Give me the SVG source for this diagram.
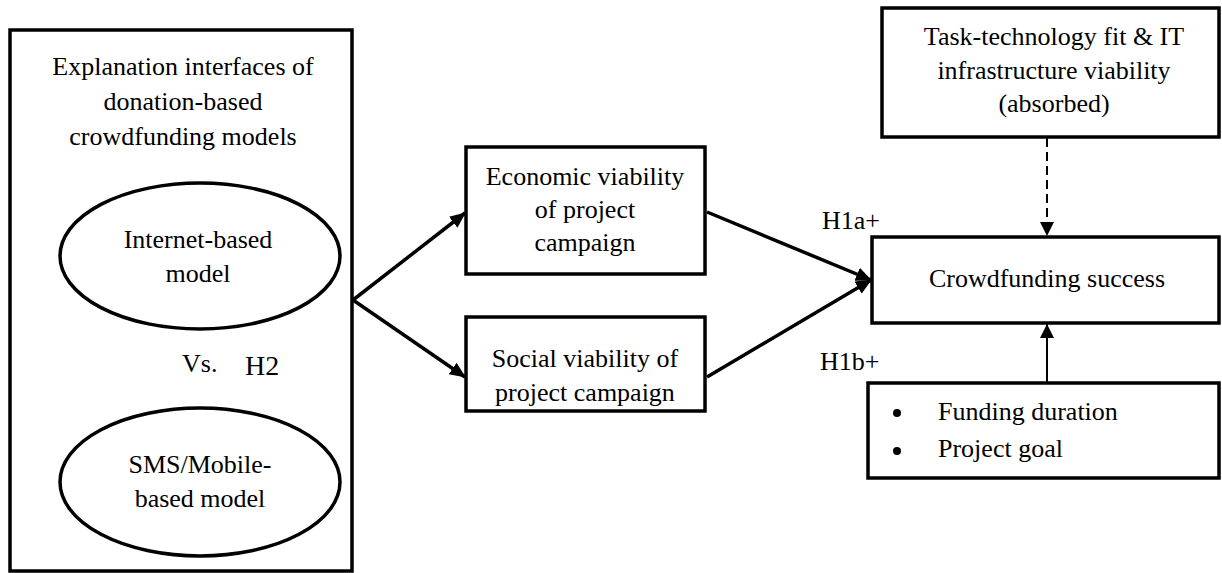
<svg xmlns="http://www.w3.org/2000/svg" width="1222" height="573" viewBox="0 0 1222 573">
<defs>
<style>
.box{fill:#fff;stroke:#000;stroke-width:3.5}
.ell{fill:#fff;stroke:#000;stroke-width:3.5}
.t{font-family:"Liberation Serif","Times New Roman",serif;font-size:26px;fill:#000;text-anchor:middle}
.tl{font-family:"Liberation Serif","Times New Roman",serif;font-size:26px;fill:#000}
.arr{fill:none;stroke:#000;stroke-width:3.5}
.thin{fill:none;stroke:#000;stroke-width:2}
</style>
<marker id="ah" viewBox="0 0 16 14" refX="15" refY="7" markerWidth="16" markerHeight="14" markerUnits="userSpaceOnUse" orient="auto">
<path d="M0,0 L16,7 L0,14 z" fill="#000"/>
</marker>
<marker id="ahs" viewBox="0 0 14 14" refX="14" refY="7" markerWidth="14" markerHeight="14" markerUnits="userSpaceOnUse" orient="auto">
<path d="M0,0 L14,7 L0,14 z" fill="#000"/>
</marker>
</defs>
<rect width="1222" height="573" fill="#fff"/>

<g id="interfaces">
<rect class="box" x="10" y="30" width="342" height="541"/>
<text class="t" x="183" y="75">Explanation interfaces of</text>
<text class="t" x="183" y="110">donation-based</text>
<text class="t" x="183" y="145">crowdfunding models</text>
</g>

<g id="internet-model">
<ellipse class="ell" cx="200" cy="256" rx="140" ry="73"/>
<text class="t" x="198" y="248">Internet-based</text>
<text class="t" x="198" y="282">model</text>
</g>

<g id="vs-label">
<text class="tl" x="182" y="372">Vs.</text>
<text class="tl" x="245" y="375" style="font-size:28px">H2</text>
</g>

<g id="sms-model">
<ellipse class="ell" cx="200" cy="482" rx="140" ry="74"/>
<text class="t" x="200" y="473">SMS/Mobile-</text>
<text class="t" x="200" y="507">based model</text>
</g>

<g id="economic">
<rect class="box" x="466" y="147" width="239" height="127"/>
<text class="t" x="585" y="185">Economic viability</text>
<text class="t" x="585" y="218">of project</text>
<text class="t" x="585" y="251">campaign</text>
</g>

<g id="social">
<rect class="box" x="466" y="317" width="239" height="94"/>
<text class="t" x="585" y="367">Social viability of</text>
<text class="t" x="585" y="401">project campaign</text>
</g>

<g id="ttf">
<rect class="box" x="882" y="8" width="337" height="129"/>
<text class="t" x="1054" y="45">Task-technology fit &amp; IT</text>
<text class="t" x="1054" y="79">infrastructure viability</text>
<text class="t" x="1054" y="112">(absorbed)</text>
</g>

<g id="success">
<rect class="box" x="872" y="237" width="347" height="86"/>
<text class="t" x="1047" y="287">Crowdfunding success</text>
</g>

<g id="controls">
<rect class="box" x="868" y="383" width="351" height="95"/>
<circle cx="897" cy="413" r="4"/>
<circle cx="897" cy="451" r="4"/>
<text class="tl" x="938" y="420">Funding duration</text>
<text class="tl" x="938" y="457">Project goal</text>
</g>

<g id="labels">
<text class="tl" x="822" y="229">H1a+</text>
<text class="tl" x="820" y="370">H1b+</text>
</g>

<g id="connectors">
<path class="arr" d="M353,300 L465,213" marker-end="url(#ah)"/>
<path class="arr" d="M353,300 L465,377" marker-end="url(#ah)"/>
<path class="arr" d="M707,212 L871,280" marker-end="url(#ah)"/>
<path class="arr" d="M707,377 L871,280" marker-end="url(#ah)"/>
<path class="thin" d="M1047,138 L1047,236" stroke-dasharray="9,5" marker-end="url(#ahs)"/>
<path class="thin" d="M1047,382 L1047,324" marker-end="url(#ahs)"/>
</g>
</svg>
